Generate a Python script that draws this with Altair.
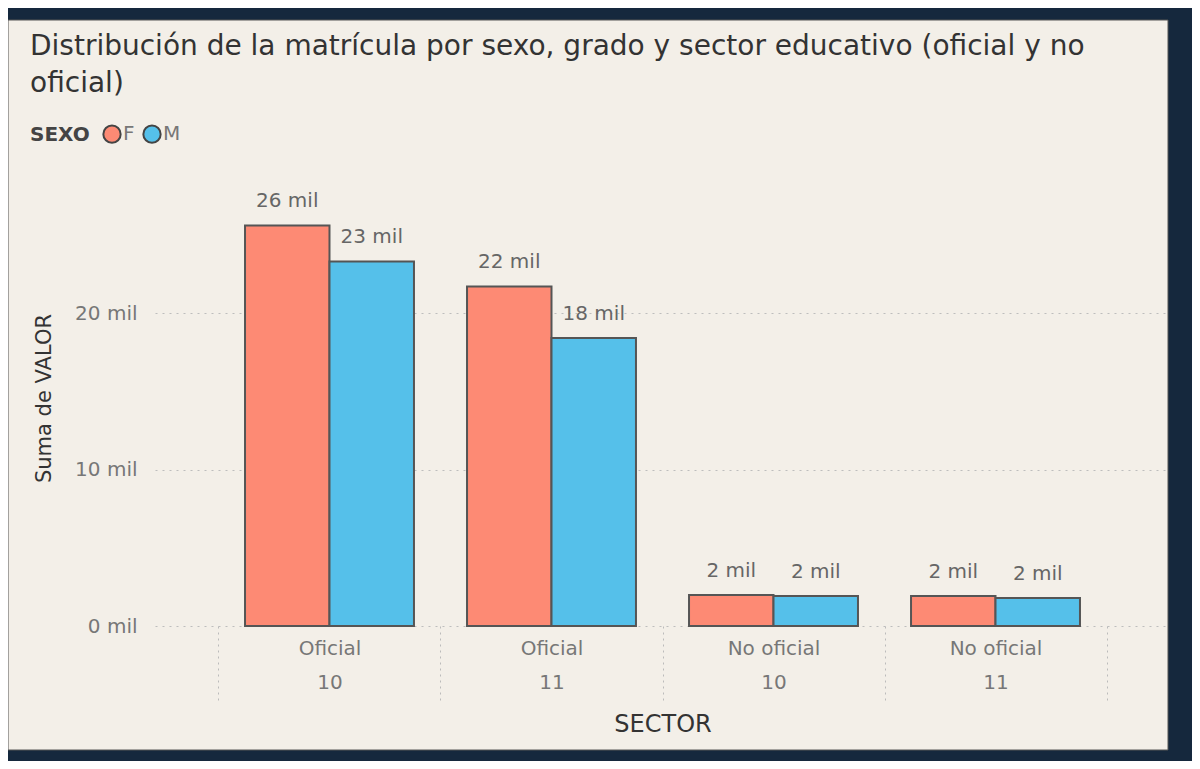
import altair as alt
import pandas as pd

# ---------------- data ----------------
sector = ["Oficial", "Oficial", "No oficial", "No oficial"]
grado = ["10", "11", "10", "11"]
sexo = ["F", "M"]
valor_f = [25600, 21700, 1980, 1920]
valor_m = [23300, 18400, 1920, 1790]
y_ticks = [0, 10000, 20000]

rows = []
for s, g, f, m in zip(sector, grado, valor_f, valor_m):
    rows.append({"SECTOR": f"{s}|{g}", "SEXO": "F", "VALOR": f})
    rows.append({"SECTOR": f"{s}|{g}", "SEXO": "M", "VALOR": m})
df = pd.DataFrame(rows)
order = [f"{s}|{g}" for s, g in zip(sector, grado)]

FONT = "DejaVu Sans"
NAVY = "#15283d"
BEIGE = "#f3efe8"
PW, PH = 1015, 456
YMAX = 29140

x_enc = alt.X(
    "SECTOR:N", sort=order, title="SECTOR",
    scale=alt.Scale(paddingInner=0, paddingOuter=0.286),
    axis=alt.Axis(
        labelExpr="split(datum.label, '|')", labelAngle=0, labelFontSize=20,
        labelColor="#777", labelLineHeight=34, labelPadding=-63, labelFont=FONT,
        tickBand="extent", tickSize=75, tickDash=[2, 4], tickColor="#bbb",
        tickWidth=1, domain=False, titleFontSize=24, titleColor="#333",
        titleFontWeight="normal", titlePadding=11, titleFont=FONT,
    ),
)
xo_enc = alt.XOffset("SEXO:N", sort=sexo, scale=alt.Scale(paddingInner=0, paddingOuter=0.314))
y_enc = alt.Y(
    "VALOR:Q", scale=alt.Scale(domain=[0, YMAX], nice=False),
    axis=alt.Axis(
        values=y_ticks, labelExpr="format(datum.value/1000,'.0f') + ' mil'",
        title="Suma de VALOR", grid=True, gridDash=[2, 5], gridColor="#bdbdbd",
        gridWidth=1, domain=False, ticks=False, labelFontSize=20, labelColor="#777",
        labelPadding=18, labelFont=FONT, titleFontSize=21, titleColor="#333",
        titleFontWeight="normal", titlePadding=20, titleFont=FONT,
    ),
)

base = alt.Chart(df)
bars = base.mark_bar(stroke="#555", strokeWidth=2).encode(
    x=x_enc, xOffset=xo_enc, y=y_enc,
    color=alt.Color(
        "SEXO:N",
        scale=alt.Scale(domain=sexo, range=["#fd8a74", "#55c0ea"]),
        legend=alt.Legend(
            orient="none", legendX=-125, legendY=-46, direction="horizontal",
            titleOrient="left", title="SEXO", titleFontSize=20, titleFontWeight="bold",
            titleColor="#444", titleFont=FONT, labelFontSize=20, labelColor="#777",
            labelFont=FONT, symbolType="circle", symbolSize=300, symbolStrokeColor="#444",
            symbolStrokeWidth=2, symbolOpacity=1, columnPadding=4, labelOffset=1,
            titlePadding=12,
        ),
    ),
)
labels = base.transform_calculate(
    label="format(datum.VALOR/1000,'.0f') + ' mil'"
).mark_text(dy=-18, baseline="alphabetic", fontSize=20, color="#666", font=FONT).encode(
    x=alt.X("SECTOR:N", sort=order), xOffset=alt.XOffset("SEXO:N", sort=sexo),
    y=alt.Y("VALOR:Q"), text="label:N",
)

one = pd.DataFrame({"k": [0]})


def strip(x1, x2, y1, y2):
    return alt.Chart(one).mark_rect(color=NAVY).encode(
        x=alt.value(x1), x2=alt.value(x2), y=alt.value(y1), y2=alt.value(y2)
    )


border = alt.Chart(one).mark_rect(fillOpacity=0, stroke="#555", strokeWidth=1).encode(
    x=alt.value(-147), x2=alt.value(1013), y=alt.value(-150), y2=alt.value(580)
)

chart = alt.layer(
    bars, labels,
    strip(-147, 1037, -162, -150),
    strip(1013, 1037, -162, 591),
    strip(-147, 1037, 580, 591),
    border,
).properties(
    width=PW, height=PH,
    title=alt.Title(
        ["Distribución de la matrícula por sexo, grado y sector educativo (oficial y no", "oficial)"],
        anchor="start", frame="group", fontSize=28, fontWeight="normal", color="#333",
        lineHeight=37, dx=-125, dy=94, baseline="top", font=FONT,
    ),
    autosize=alt.AutoSizeParams(type="none"),
    padding={"left": 147, "top": 162, "right": 22, "bottom": 135},
    background=BEIGE,
).configure_view(stroke="transparent")

chart.save("out.html", embed_options={"renderer": "svg", "actions": False})
